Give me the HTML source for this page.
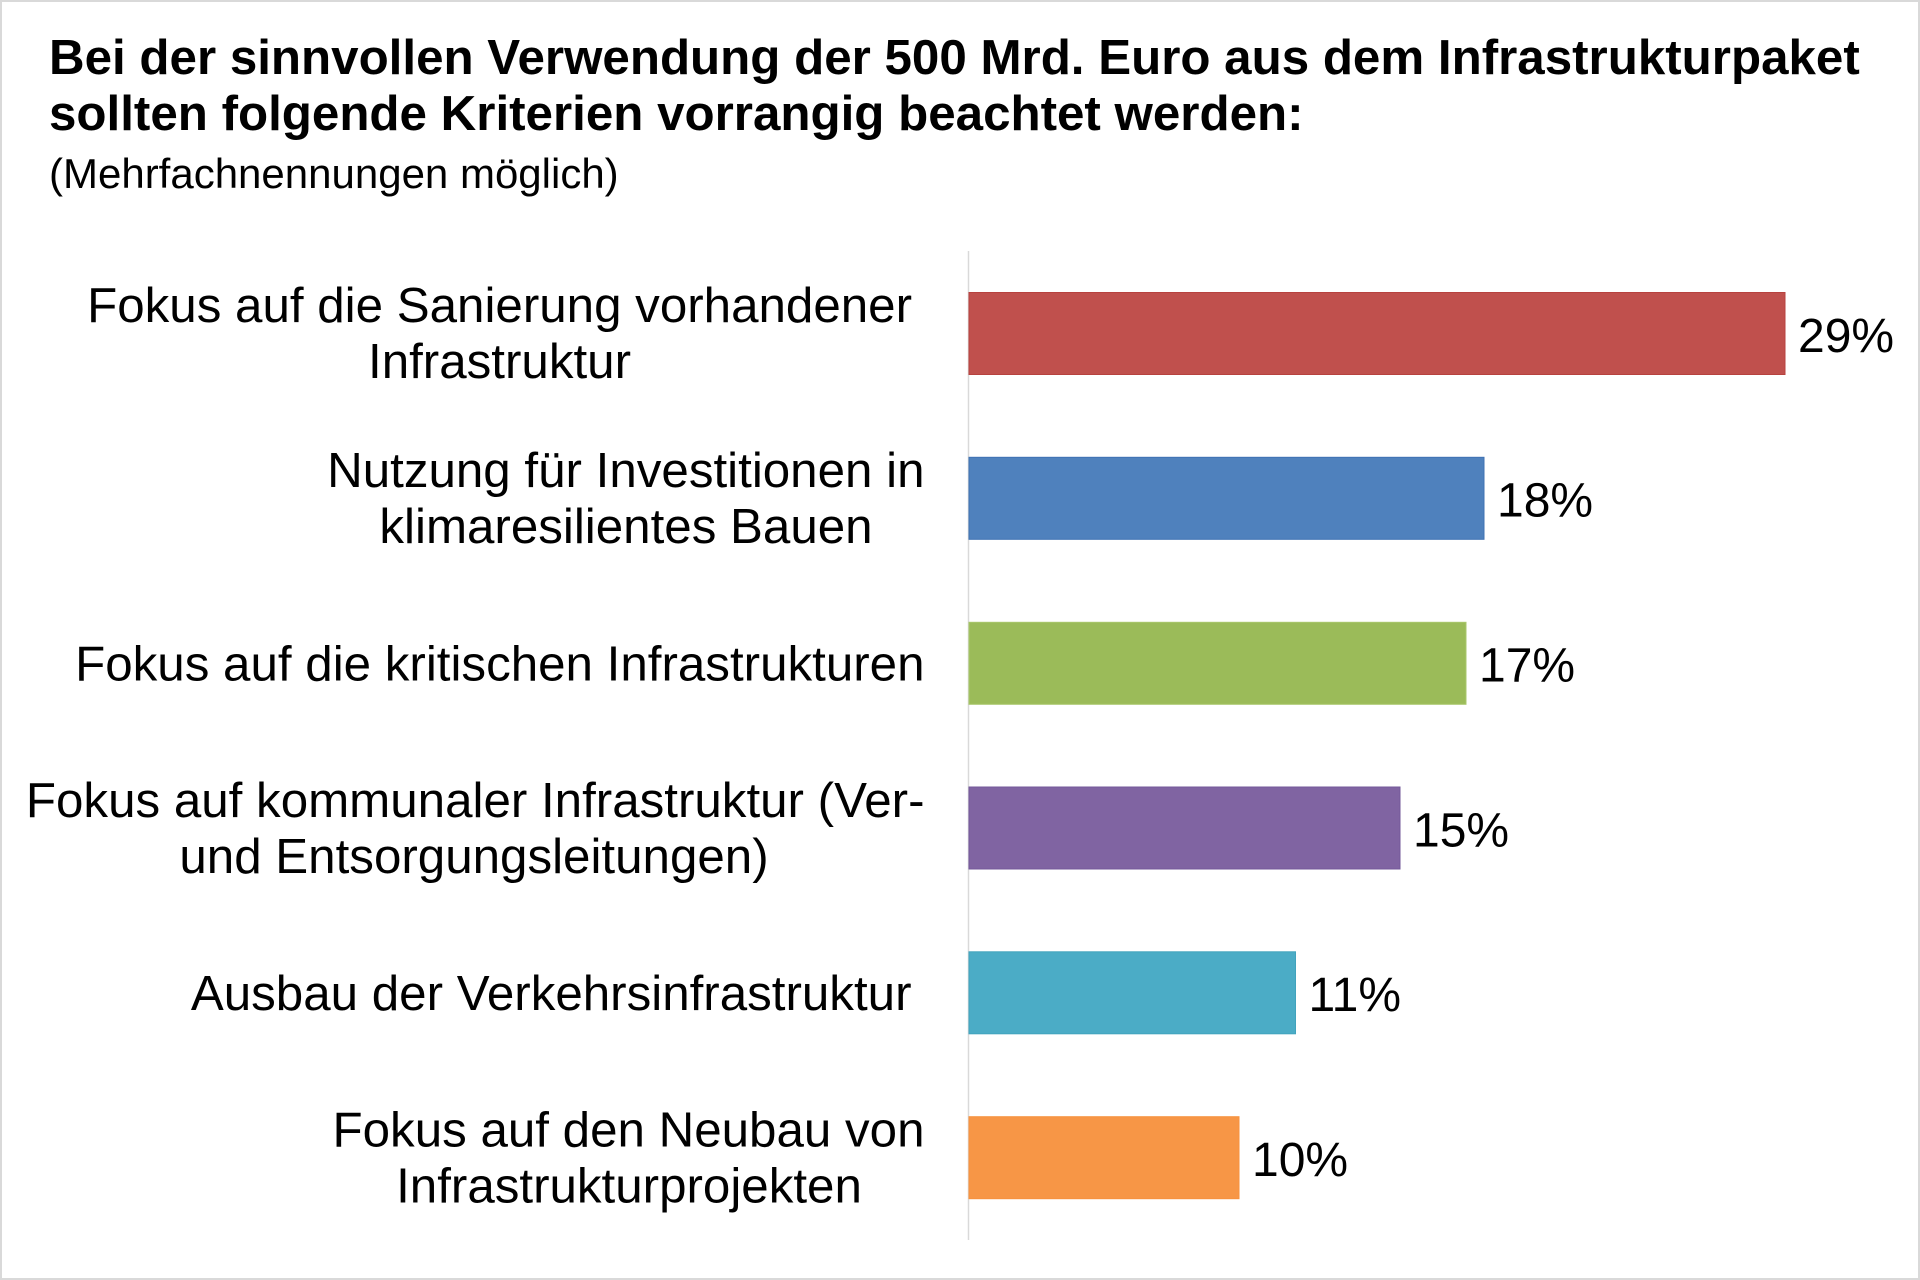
<!DOCTYPE html>
<html>
<head>
<meta charset="utf-8">
<style>
  html, body { margin: 0; padding: 0; background: #ffffff; }
  body { width: 1920px; height: 1280px; overflow: hidden; }
  svg { display: block; }
  text { font-family: "Liberation Sans", Arial, sans-serif; fill: #000000; }
  .t { font-weight: bold; font-size: 49.3px; }
  .s { font-size: 42px; }
  .l { font-size: 49.3px; }
  .v { font-size: 48px; }
</style>
</head>
<body>
<svg width="1920" height="1280" viewBox="0 0 1920 1280" xmlns="http://www.w3.org/2000/svg">
  <rect x="0" y="0" width="1920" height="1280" fill="#ffffff"/>
  <!-- outer frame -->
  <rect x="1" y="1" width="1918" height="1278" fill="none" stroke="#d9d9d9" stroke-width="2"/>

  <!-- title -->
  <text class="t" x="49" y="74">Bei der sinnvollen Verwendung der 500 Mrd. Euro aus dem Infrastrukturpaket</text>
  <text class="t" x="49" y="130">sollten folgende Kriterien vorrangig beachtet werden:</text>
  <text class="s" x="49" y="188">(Mehrfachnennungen möglich)</text>

  <!-- axis -->
  <line x1="968.5" y1="251" x2="968.5" y2="1240" stroke="#d9d9d9" stroke-width="1.5"/>

  <!-- bars -->
  <rect x="969" y="292.5" width="816" height="82" fill="#C0504D" stroke="#b7423f" stroke-width="1"/>
  <rect x="969" y="457.3" width="515" height="82" fill="#4F81BD" stroke="#3f72b3" stroke-width="1"/>
  <rect x="969" y="622.3" width="497" height="82" fill="#9BBB59" stroke="#a9c76c" stroke-width="1"/>
  <rect x="969" y="787" width="431" height="82" fill="#8064A2" stroke="#73589a" stroke-width="1"/>
  <rect x="969" y="951.8" width="326.5" height="82" fill="#4BACC6" stroke="#41a3bd" stroke-width="1"/>
  <rect x="969" y="1116.7" width="270" height="82" fill="#F79646" stroke="#f7923e" stroke-width="1"/>

  <!-- value labels -->
  <text class="v" x="1798" y="351.8">29%</text>
  <text class="v" x="1497" y="516.6">18%</text>
  <text class="v" x="1479" y="681.6">17%</text>
  <text class="v" x="1413" y="846.3">15%</text>
  <text class="v" x="1308.5" y="1011">11%</text>
  <text class="v" x="1252" y="1176">10%</text>

  <!-- category labels -->
  <text class="l" x="912" y="322" text-anchor="end">Fokus auf die Sanierung vorhandener</text>
  <text class="l" x="499.5" y="378" text-anchor="middle">Infrastruktur</text>

  <text class="l" x="924.5" y="487" text-anchor="end">Nutzung für Investitionen in</text>
  <text class="l" x="626" y="543" text-anchor="middle">klimaresilientes Bauen</text>

  <text class="l" x="924.5" y="680.5" text-anchor="end">Fokus auf die kritischen Infrastrukturen</text>

  <text class="l" x="924.5" y="817" text-anchor="end">Fokus auf kommunaler Infrastruktur (Ver-</text>
  <text class="l" x="474" y="873" text-anchor="middle">und Entsorgungsleitungen)</text>

  <text class="l" x="911.5" y="1010" text-anchor="end">Ausbau der Verkehrsinfrastruktur</text>

  <text class="l" x="924.5" y="1146.5" text-anchor="end">Fokus auf den Neubau von</text>
  <text class="l" x="629" y="1202.5" text-anchor="middle">Infrastrukturprojekten</text>
</svg>
</body>
</html>
